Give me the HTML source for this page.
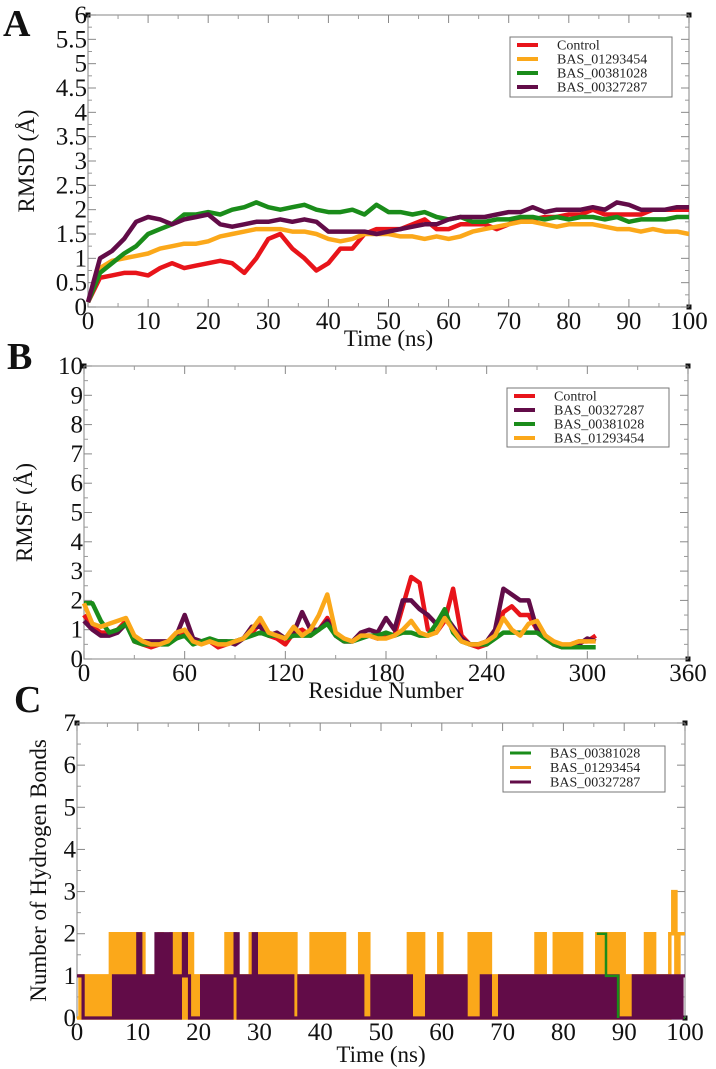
<!DOCTYPE html>
<html><head><meta charset="utf-8"><style>
body{margin:0;background:#fff;}
svg{display:block;}
svg text{font-family:"Liberation Serif","Times New Roman",Times,serif !important;}
</style></head><body>
<svg id="fig" width="716" height="1069" viewBox="0 0 716 1069" xmlns="http://www.w3.org/2000/svg"></svg>
<script>
// ---------- Panel A data (RMSD, every 2 ns) ----------
const rmsdTime = [0,2,4,6,8,10,12,14,16,18,20,22,24,26,28,30,32,34,36,38,40,42,44,46,48,50,52,54,56,58,60,62,64,66,68,70,72,74,76,78,80,82,84,86,88,90,92,94,96,98,100];
const rmsdControl = [0.1,0.6,0.65,0.7,0.7,0.65,0.8,0.9,0.8,0.85,0.9,0.95,0.9,0.7,1.0,1.4,1.5,1.2,1.0,0.75,0.9,1.2,1.2,1.5,1.6,1.6,1.6,1.7,1.8,1.6,1.6,1.7,1.7,1.7,1.6,1.7,1.8,1.8,1.85,1.85,1.9,1.9,2.0,1.9,1.9,1.9,1.9,2.0,2.0,2.0,2.0];
const rmsdBAS01293454 = [0.1,0.8,0.95,1.0,1.05,1.1,1.2,1.25,1.3,1.3,1.35,1.45,1.5,1.55,1.6,1.6,1.6,1.55,1.55,1.5,1.4,1.35,1.4,1.5,1.5,1.5,1.45,1.45,1.4,1.45,1.4,1.45,1.55,1.6,1.65,1.7,1.75,1.75,1.7,1.65,1.7,1.7,1.7,1.65,1.6,1.6,1.55,1.6,1.55,1.55,1.5];
const rmsdBAS00381028 = [0.1,0.7,0.9,1.1,1.25,1.5,1.6,1.7,1.9,1.9,1.95,1.9,2.0,2.05,2.15,2.05,2.0,2.05,2.1,2.0,1.95,1.95,2.0,1.9,2.1,1.95,1.95,1.9,1.95,1.85,1.8,1.85,1.75,1.75,1.8,1.8,1.85,1.85,1.8,1.85,1.8,1.85,1.85,1.8,1.85,1.75,1.8,1.8,1.8,1.85,1.85];
const rmsdBAS00327287 = [0.1,1.0,1.15,1.4,1.75,1.85,1.8,1.7,1.8,1.85,1.9,1.7,1.65,1.7,1.75,1.75,1.8,1.75,1.8,1.75,1.55,1.55,1.55,1.55,1.5,1.55,1.6,1.65,1.7,1.7,1.8,1.85,1.85,1.85,1.9,1.95,1.95,2.05,1.95,2.0,2.0,2.0,2.05,2.0,2.15,2.1,2.0,2.0,2.0,2.05,2.05];
const rmsdYTicks = ["0","0.5","1","1.5","2","2.5","3","3.5","4","4.5","5","5.5","6"];
const rmsdXTicks = ["0","10","20","30","40","50","60","70","80","90","100"];

// ---------- Panel B data (RMSF, every 5 residues) ----------
const resNum = [0,5,10,15,20,25,30,35,40,45,50,55,60,65,70,75,80,85,90,95,100,105,110,115,120,125,130,135,140,145,150,155,160,165,170,175,180,185,190,195,200,205,210,215,220,225,230,235,240,245,250,255,260,265,270,275,280,285,290,295,300,305];
const rmsfControl = [1.5,1.1,0.9,0.9,1.0,1.3,0.6,0.5,0.4,0.5,0.6,0.7,0.9,0.6,0.6,0.6,0.4,0.5,0.6,0.7,0.9,1.2,0.8,0.7,0.5,0.9,1.0,0.8,1.0,1.4,0.8,0.6,0.6,0.8,0.8,0.7,0.8,0.8,1.8,2.8,2.6,1.0,0.9,1.3,2.4,0.8,0.5,0.4,0.5,0.8,1.6,1.8,1.5,1.5,1.0,0.7,0.5,0.4,0.5,0.6,0.6,0.8];
const rmsfBAS00327287 = [1.3,1.0,0.8,0.8,0.9,1.2,0.7,0.6,0.6,0.6,0.6,0.8,1.5,0.7,0.6,0.6,0.6,0.6,0.5,0.7,1.1,1.1,0.8,0.9,0.7,0.9,1.6,1.0,1.0,1.3,0.8,0.6,0.6,0.9,1.0,0.9,1.4,1.0,2.0,2.0,1.7,1.5,1.2,1.5,1.1,0.7,0.5,0.5,0.6,1.0,2.4,2.2,2.0,2.0,1.0,0.8,0.5,0.4,0.4,0.5,0.7,0.6];
const rmsfBAS00381028 = [1.9,1.9,1.3,0.9,1.0,1.2,0.6,0.5,0.5,0.5,0.5,0.7,0.8,0.5,0.6,0.7,0.6,0.6,0.6,0.7,0.8,0.9,0.8,0.8,0.7,0.8,0.8,0.8,1.0,1.2,0.8,0.6,0.6,0.7,0.8,0.8,0.9,0.8,0.9,0.9,0.8,0.8,1.2,1.7,0.9,0.6,0.5,0.5,0.5,0.7,0.9,0.9,0.9,0.9,0.9,0.7,0.5,0.4,0.4,0.4,0.4,0.4];
const rmsfBAS01293454 = [1.9,1.2,1.1,1.2,1.3,1.4,0.8,0.6,0.5,0.5,0.6,0.9,1.0,0.6,0.5,0.6,0.5,0.5,0.6,0.7,1.0,1.4,0.9,0.8,0.7,1.1,0.8,1.0,1.5,2.2,0.9,0.7,0.6,0.8,0.8,0.7,0.7,0.8,1.0,1.3,0.9,0.8,0.9,1.4,1.0,0.6,0.5,0.5,0.6,0.8,1.4,1.0,0.8,1.2,1.3,0.8,0.6,0.5,0.5,0.6,0.6,0.6];
const rmsfYTicks = ["0","1","2","3","4","5","6","7","8","9","10"];
const rmsfXTicks = ["0","60","120","180","240","300","360"];

// ---------- Panel C data (H-bonds, every 0.5 ns) ----------
const hbOrange = [0,1,0,1,0,1,0,1,0,1,0,2,0,2,0,2,0,2,0,2,
0,2,0,1,0,1,0,2,0,1,0,2,0,2,0,2,0,2,0,1,
0,1,0,1,0,1,0,1,0,2,0,2,0,1,0,1,0,2,0,2,
0,2,0,2,0,2,0,2,0,2,0,2,0,1,0,1,0,2,0,2,
0,2,0,2,0,2,0,2,0,1,0,1,0,2,0,2,0,1,0,1,
0,1,0,1,0,1,0,1,0,2,0,2,0,2,0,1,0,1,0,2,
0,1,0,1,0,1,0,1,0,2,0,2,0,2,0,2,0,1,0,1,
0,1,0,1,0,1,0,1,0,1,0,2,0,2,0,1,0,2,0,2,
0,2,0,2,0,2,0,1,0,1,0,2,0,2,0,2,0,2,0,2,
0,1,0,1,0,1,0,2,0,2,0,1,0,1,0,2,3,1,2,2,2];
const hbPurple = [1,1,0,0,0,0,0,0,0,0,0,0,1,0,1,0,1,0,1,0,
2,0,1,0,1,0,2,0,2,0,2,0,1,0,1,2,1,0,0,0,
0,1,0,1,0,1,0,1,0,1,0,1,2,0,1,0,1,0,2,0,
1,0,1,0,1,0,1,0,1,0,1,0,0,1,0,1,0,1,0,1,
0,1,0,1,0,1,0,1,0,1,0,1,0,1,0,0,0,1,0,1,
0,1,0,1,0,1,0,1,0,1,0,0,0,0,0,1,0,1,0,1,
0,1,0,1,0,1,0,1,0,0,0,0,0,1,0,1,0,0,0,1,
0,1,0,1,0,1,0,1,0,1,0,1,0,1,0,1,0,1,0,1,
0,1,0,1,0,1,0,1,0,1,0,1,0,1,0,1,0,1,0,0,
0,0,0,1,0,1,0,1,0,1,0,1,0,1,0,1,0,1,0,1,1];
const hbStep = 0.5;
const hbGreenTime = [0,67.8,68.2,85.5,87,89,100];
const hbGreenVal = [0,1,0,2,1,0,0];
const hbYTicks = ["0","1","2","3","4","5","6","7"];
const hbXTicks = ["0","10","20","30","40","50","60","70","80","90","100"];

const NS="http://www.w3.org/2000/svg";
const svg=document.getElementById('fig');
function mk(tag,attrs,parent){const e=document.createElementNS(NS,tag);for(const k in attrs)e.setAttribute(k,attrs[k]);if(tag==='text')e.setAttribute('style','font-family:"Liberation Serif",serif');(parent||svg).appendChild(e);return e;}

function panel(o){
  const g=mk('g',{});
  
  
  const X=v=>o.L+(v-o.xmin)/(o.xmax-o.xmin)*(o.R-o.L);
  const Y=v=>o.B-(v-o.ymin)/(o.ymax-o.ymin)*(o.B-o.T);
  const fr=mk('rect',{x:o.L,y:o.T,width:o.R-o.L,height:o.B-o.T,fill:'none',stroke:'#999','stroke-width':1.2},g);
  
  
  [[o.L,o.T],[o.R,o.T],[o.R,o.B]].forEach(p=>mk('rect',{x:p[0]-2.5,y:p[1]-2.5,width:5,height:5,fill:'#111'},g));
  const nx=o.xt.length, ny=o.yt.length;
  for(let i=0;i<nx;i++){
    const v=o.xmin+i*(o.xmax-o.xmin)/(nx-1), x=X(v);
    mk('line',{x1:x,y1:o.B,x2:x,y2:o.B-8,stroke:'#888','stroke-width':1},g);
    mk('line',{x1:x,y1:o.T,x2:x,y2:o.T+8,stroke:'#888','stroke-width':1},g);
    if(i<nx-1){const xm=X(v+(o.xmax-o.xmin)/(nx-1)/2);
      mk('line',{x1:xm,y1:o.B,x2:xm,y2:o.B-4,stroke:'#999'},g);
      mk('line',{x1:xm,y1:o.T,x2:xm,y2:o.T+4,stroke:'#999'},g);}
    const t=mk('text',{x:x,y:o.B+o.xlDy,'font-size':o.fs,'text-anchor':'middle',fill:'#111'},g);
    t.textContent=o.xt[i];
    
    
  }
  for(let i=0;i<ny;i++){
    const v=o.ymin+i*(o.ymax-o.ymin)/(ny-1), y=Y(v);
    mk('line',{x1:o.L,y1:y,x2:o.L+8,y2:y,stroke:'#888'},g);
    mk('line',{x1:o.R,y1:y,x2:o.R-8,y2:y,stroke:'#888'},g);
    if(i<ny-1){const ym=Y(v+(o.ymax-o.ymin)/(ny-1)/2);
      mk('line',{x1:o.L,y1:ym,x2:o.L+4,y2:ym,stroke:'#999'},g);
      mk('line',{x1:o.R,y1:ym,x2:o.R-4,y2:ym,stroke:'#999'},g);}
    const t=mk('text',{x:o.L-1,y:y+8,'font-size':o.fs,'text-anchor':'end',fill:'#111'},g);
    t.textContent=o.yt[i];
    
    
  }
  const xt=mk('text',{x:(o.L+o.R)/2,y:o.xtitleY,'font-size':o.tfs,'text-anchor':'middle',fill:'#111'},g);
  xt.textContent=o.xtitle;
  
  
  const yt=mk('text',{x:0,y:0,'font-size':o.tfs,'text-anchor':'middle',fill:'#111',transform:`translate(${o.ytitleX},${(o.T+o.B)/2}) rotate(-90)`},g);
  yt.textContent=o.ytitle;
  
  
  const lt=mk('text',{x:o.letter[1],y:o.letter[2],'font-size':38,'font-weight':'bold',fill:'#111'},g);
  lt.textContent=o.letter[0];
  
  
  return {g,X,Y};
}
function legend(g,box,items,lw){
  const lg=mk('g',{},g);
  
  
  mk('rect',{x:box[0],y:box[1],width:box[2],height:box[3],fill:'#fff',stroke:'#777','stroke-width':1},lg);
  items.forEach((it,i)=>{
    const y=box[1]+box[4]+i*box[5];
    const e=mk('g',{},lg);
    
    
    mk('line',{x1:box[0]+7,y1:y,x2:box[0]+28,y2:y,stroke:it[1],'stroke-width':lw},e);
    const t=mk('text',{x:box[0]+47,y:y+4.5,'font-size':14,fill:'#222'},e);
    t.textContent=it[0];
  });
}
function line(g,X,Y,xs,ys,col,w,name){
  let d='';xs.forEach((x,i)=>{d+=(i?'L':'M')+X(x).toFixed(1)+','+Y(ys[i]).toFixed(1);});
  const p=mk('path',{d:d,fill:'none',stroke:col,'stroke-width':w,'stroke-linejoin':'round'},g);
  
  
}
function stepLine(g,X,Y,xs,ys,col,w,name){
  let d='M'+X(xs[0]).toFixed(1)+','+Y(ys[0]).toFixed(1);
  for(let i=1;i<xs.length;i++){d+='H'+X(xs[i]).toFixed(1)+'V'+Y(ys[i]).toFixed(1);}
  const p=mk('path',{d:d,fill:'none',stroke:col,'stroke-width':w},g);
  
  
}
const RED='#e8141a',ORG='#fba81a',GRN='#1a8c1a',PUR='#620c48';

// Panel A
const A=panel({name:'rmsd-panel',L:88,R:689,T:15,B:307,xmin:0,xmax:100,ymin:0,ymax:6,xt:rmsdXTicks,yt:rmsdYTicks,fs:25,tfs:23,xlDy:22,xtitleY:346,xtitle:'Time (ns)',ytitleX:34,ytitle:'RMSD (Å)',letter:['A',3,36]});
line(A.g,A.X,A.Y,rmsdTime,rmsdControl,RED,4.5,'series-control');
line(A.g,A.X,A.Y,rmsdTime,rmsdBAS01293454,ORG,4.5,'series-bas-01293454');
line(A.g,A.X,A.Y,rmsdTime,rmsdBAS00381028,GRN,4.5,'series-bas-00381028');
line(A.g,A.X,A.Y,rmsdTime,rmsdBAS00327287,PUR,4.5,'series-bas-00327287');
legend(A.g,[510,37,162,60,8,14],[['Control',RED],['BAS_01293454',ORG],['BAS_00381028',GRN],['BAS_00327287',PUR]],4);

// Panel B
const Bp=panel({name:'rmsf-panel',L:84,R:688,T:366,B:659,xmin:0,xmax:360,ymin:0,ymax:10,xt:rmsfXTicks,yt:rmsfYTicks,fs:25,tfs:23,xlDy:22,xtitleY:698,xtitle:'Residue Number',ytitleX:32,ytitle:'RMSF (Å)',letter:['B',7,369]});
line(Bp.g,Bp.X,Bp.Y,resNum,rmsfControl,RED,4.5,'series-control');
line(Bp.g,Bp.X,Bp.Y,resNum,rmsfBAS00327287,PUR,4.5,'series-bas-00327287');
line(Bp.g,Bp.X,Bp.Y,resNum,rmsfBAS00381028,GRN,4.5,'series-bas-00381028');
line(Bp.g,Bp.X,Bp.Y,resNum,rmsfBAS01293454,ORG,4.5,'series-bas-01293454');
legend(Bp.g,[507,388,162,59,8,14],[['Control',RED],['BAS_00327287',PUR],['BAS_00381028',GRN],['BAS_01293454',ORG]],4);

// Panel C
const C=panel({name:'hbond-panel',L:77,R:685,T:723,B:1018,xmin:0,xmax:100,ymin:0,ymax:7,xt:hbXTicks,yt:hbYTicks,fs:25,tfs:23,xlDy:22,xtitleY:1062,xtitle:'Time (ns)',ytitleX:46,ytitle:'Number of Hydrogen Bonds',letter:['C',14,712]});
const hbTime=hbOrange.map((_,i)=>i*hbStep);
stepLine(C.g,C.X,C.Y,hbGreenTime,hbGreenVal,GRN,2,'series-bas-00381028');
stepLine(C.g,C.X,C.Y,hbTime,hbOrange,ORG,3.5,'series-bas-01293454');
stepLine(C.g,C.X,C.Y,hbTime,hbPurple,PUR,3.2,'series-bas-00327287');
stepLine(C.g,C.X,C.Y,[85.5,86.5,87,88,89],[2,2,1,1,0],GRN,2.5,'series-bas-00381028-overlay');
legend(C.g,[503,746,162,46,7,14.5],[['BAS_00381028',GRN],['BAS_01293454',ORG],['BAS_00327287',PUR]],3);
</script>
</body></html>
